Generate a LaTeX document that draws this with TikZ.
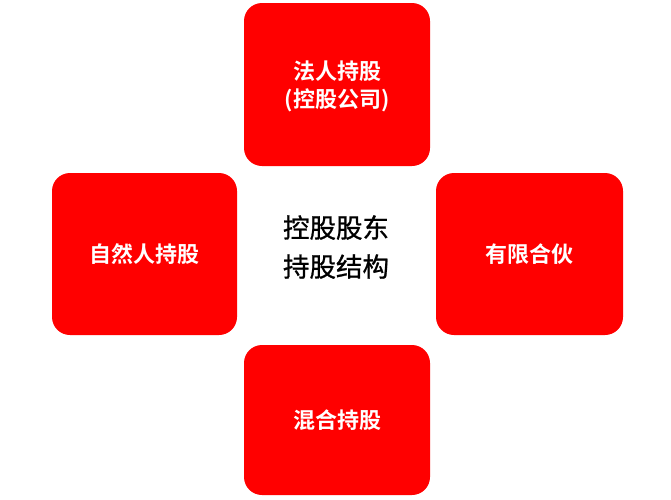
\documentclass[tikz,border=0pt]{standalone}
\usepackage{fontspec}
\newfontfamily\cjk[FakeBold=0.9]{Noto Sans CJK SC}
\newfontfamily\cjkb{Noto Sans CJK SC Bold}
\begin{document}
\begin{tikzpicture}[x=1pt,y=-1pt,
  card/.style={fill=red, rounded corners=18pt},
  cardtext/.style={text=white, font=\cjkb\fontsize{22}{28}\selectfont, align=center},
  centertext/.style={text=black, font=\cjk\fontsize{26.5}{39}\selectfont, align=center}]
\useasboundingbox (0,0) rectangle (671,499);
\fill[card] (244,3) rectangle (430,166);
\fill[card] (52,173) rectangle (237,335);
\fill[card] (436,173) rectangle (623,335);
\fill[card] (244,345) rectangle (430,495);
\node[cardtext] (top) at (337,86) {法人持股\\(控股公司)};
\node[cardtext] (left) at (144.5,254) {自然人持股};
\node[cardtext] (right) at (529.5,254) {有限合伙};
\node[cardtext] (bottom) at (337,420) {混合持股};
\node[centertext] (center) at (336,247) {控股股东\\持股结构};
\end{tikzpicture}
\end{document}
